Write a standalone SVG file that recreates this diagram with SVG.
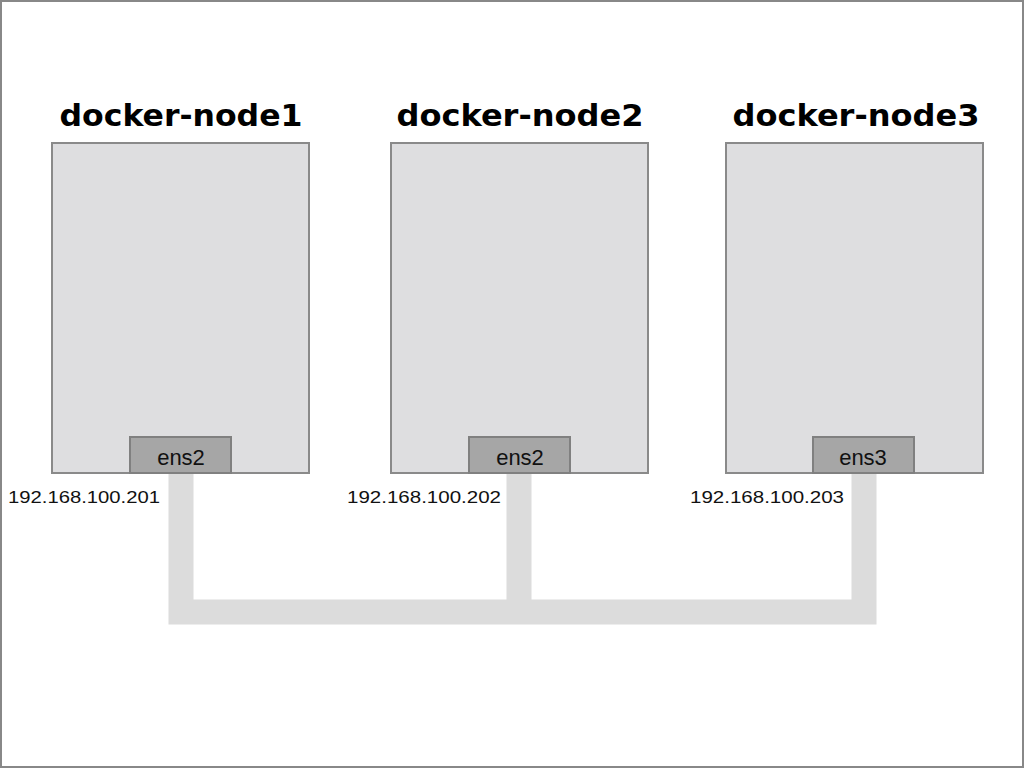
<svg xmlns="http://www.w3.org/2000/svg" width="1024" height="768" viewBox="0 0 1024 768">
<style>
.box{fill:#dedee0;stroke:#8a8a8a;stroke-width:2}
.nic{fill:#a6a6a6;stroke:#808080;stroke-width:2}
.t{font-family:"DejaVu Sans","Liberation Sans",sans-serif;font-weight:bold;font-size:30px;text-anchor:middle;fill:#000}
.n{font-family:"Liberation Sans",Arial,sans-serif;font-size:22px;text-anchor:middle;fill:#111}
.ip{font-family:"Liberation Sans",Arial,sans-serif;font-size:17px;fill:#111}
.w{fill:none;stroke:#dcdcdc;stroke-width:25}
</style>
<rect x="0" y="0" width="1024" height="768" fill="#fff"/>
<rect x="1" y="1" width="1022" height="766" fill="none" stroke="#888" stroke-width="2"/>
<g id="connectors">
<path class="w" d="M181 473 V612 H864 V473"/>
<path class="w" d="M519 473 V612"/>
</g>
<g id="node1">
<text class="t" x="181" y="126" textLength="243" lengthAdjust="spacingAndGlyphs">docker-node1</text>
<rect class="box" x="52" y="143" width="257" height="330"/>
<rect class="nic" x="130" y="437" width="101" height="36"/>
<text class="n" x="181" y="465">ens2</text>
<text class="ip" x="8" y="503" textLength="152" lengthAdjust="spacingAndGlyphs">192.168.100.201</text>
</g>
<g id="node2">
<text class="t" x="520" y="126" textLength="247" lengthAdjust="spacingAndGlyphs">docker-node2</text>
<rect class="box" x="391" y="143" width="257" height="330"/>
<rect class="nic" x="469" y="437" width="101" height="36"/>
<text class="n" x="520" y="465">ens2</text>
<text class="ip" x="347" y="503" textLength="154" lengthAdjust="spacingAndGlyphs">192.168.100.202</text>
</g>
<g id="node3">
<text class="t" x="856" y="126" textLength="247" lengthAdjust="spacingAndGlyphs">docker-node3</text>
<rect class="box" x="726" y="143" width="257" height="330"/>
<rect class="nic" x="813" y="437" width="101" height="36"/>
<text class="n" x="863" y="465">ens3</text>
<text class="ip" x="690" y="503" textLength="154" lengthAdjust="spacingAndGlyphs">192.168.100.203</text>
</g>
</svg>
